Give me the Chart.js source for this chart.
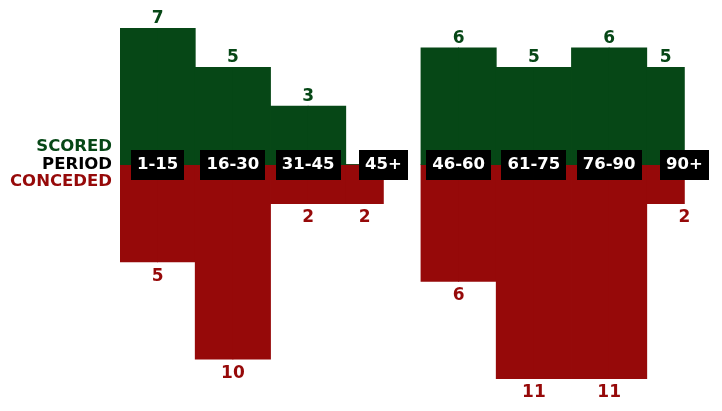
<!DOCTYPE html>
<html>
<head>
<meta charset="utf-8">
<script src="https://cdn.jsdelivr.net/npm/chart.js@4"></script>
<style>
html,body{margin:0;padding:0;background:#fff;}
#wrap{width:722px;height:411px;}
</style>
</head>
<body>
<div id="wrap"><canvas id="c" width="722" height="411"></canvas></div>
<script>
const periods = ['1-15', '16-30', '31-45', '45+', '46-60', '61-75', '76-90', '90+'];
const scored = [7, 5, 3, 0, 6, 5, 6, 5];
const conceded = [5, 10, 2, 2, 6, 11, 11, 2];
const stoppagePeriods = ['45+', '90+'];
const sideLabels = ['SCORED', 'PERIOD', 'CONCEDED'];

const GREEN = '#064716';
const RED = '#960909';
const FONT = '"DejaVu Sans", sans-serif';

// each period spans two half-slots; stoppage-time periods fill only the first one
const slotLabels = [];
const scoredSlots = [];
const concededSlots = [];
periods.forEach((p, i) => {
  const half = stoppagePeriods.includes(p);
  slotLabels.push(p + ' a', p + ' b');
  scoredSlots.push(scored[i], half ? null : scored[i]);
  concededSlots.push(-conceded[i], half ? null : -conceded[i]);
});

const labelPlugin = {
  id: 'labels',
  afterDatasetsDraw(chart) {
    const ctx = chart.ctx;
    const xs = chart.scales.x;
    const ys = chart.scales.y;
    const y0 = ys.getPixelForValue(0);
    ctx.save();
    ctx.textAlign = 'center';
    periods.forEach((p, i) => {
      const half = stoppagePeriods.includes(p);
      const centre = xs.getPixelForValue(2 * i + 0.5);
      const barCentre = half ? xs.getPixelForValue(2 * i) : centre;
      ctx.font = 'bold 17px ' + FONT;
      if (scored[i]) {
        ctx.fillStyle = GREEN;
        ctx.textBaseline = 'bottom';
        ctx.fillText(String(scored[i]), barCentre, ys.getPixelForValue(scored[i]) - 1);
      }
      if (conceded[i]) {
        ctx.fillStyle = RED;
        ctx.textBaseline = 'top';
        const lx = (i === periods.length - 1) ? centre : barCentre;
        ctx.fillText(String(conceded[i]), lx, ys.getPixelForValue(-conceded[i]) + 6);
      }
      // period box
      ctx.font = 'bold 16.5px ' + FONT;
      const w = ctx.measureText(p).width + 12;
      ctx.fillStyle = '#000';
      ctx.fillRect(Math.round(centre - w / 2), Math.round(y0 - 15), Math.round(w), 30);
      ctx.fillStyle = '#fff';
      ctx.textBaseline = 'middle';
      ctx.fillText(p, centre, y0 + 0.3);
    });
    // side labels
    ctx.font = 'bold 16.5px ' + FONT;
    ctx.textAlign = 'right';
    ctx.textBaseline = 'middle';
    const colours = [GREEN, '#000', RED];
    sideLabels.forEach((t, k) => {
      ctx.fillStyle = colours[k];
      ctx.fillText(t, 112, y0 - 0.3 + (k - 1) * 17.5);
    });
    ctx.restore();
  }
};

new Chart(document.getElementById('c'), {
  type: 'bar',
  data: {
    labels: slotLabels,
    datasets: [
      { label: 'Scored', data: scoredSlots, backgroundColor: GREEN },
      { label: 'Conceded', data: concededSlots, backgroundColor: RED }
    ]
  },
  options: {
    responsive: false,
    animation: false,
    events: [],
    layout: { padding: { left: 120, right: 0, top: 9, bottom: 13 } },
    datasets: {
      bar: {
        barPercentage: 1,
        categoryPercentage: 1,
        borderWidth: 0,
        inflateAmount: 0.4
      }
    },
    plugins: {
      legend: { display: false },
      tooltip: { enabled: false },
      title: { display: false }
    },
    scales: {
      x: { display: false, stacked: true, offset: true },
      y: { display: false, stacked: true, min: -12, max: 8 }
    }
  },
  plugins: [labelPlugin]
});
</script>
</body>
</html>
